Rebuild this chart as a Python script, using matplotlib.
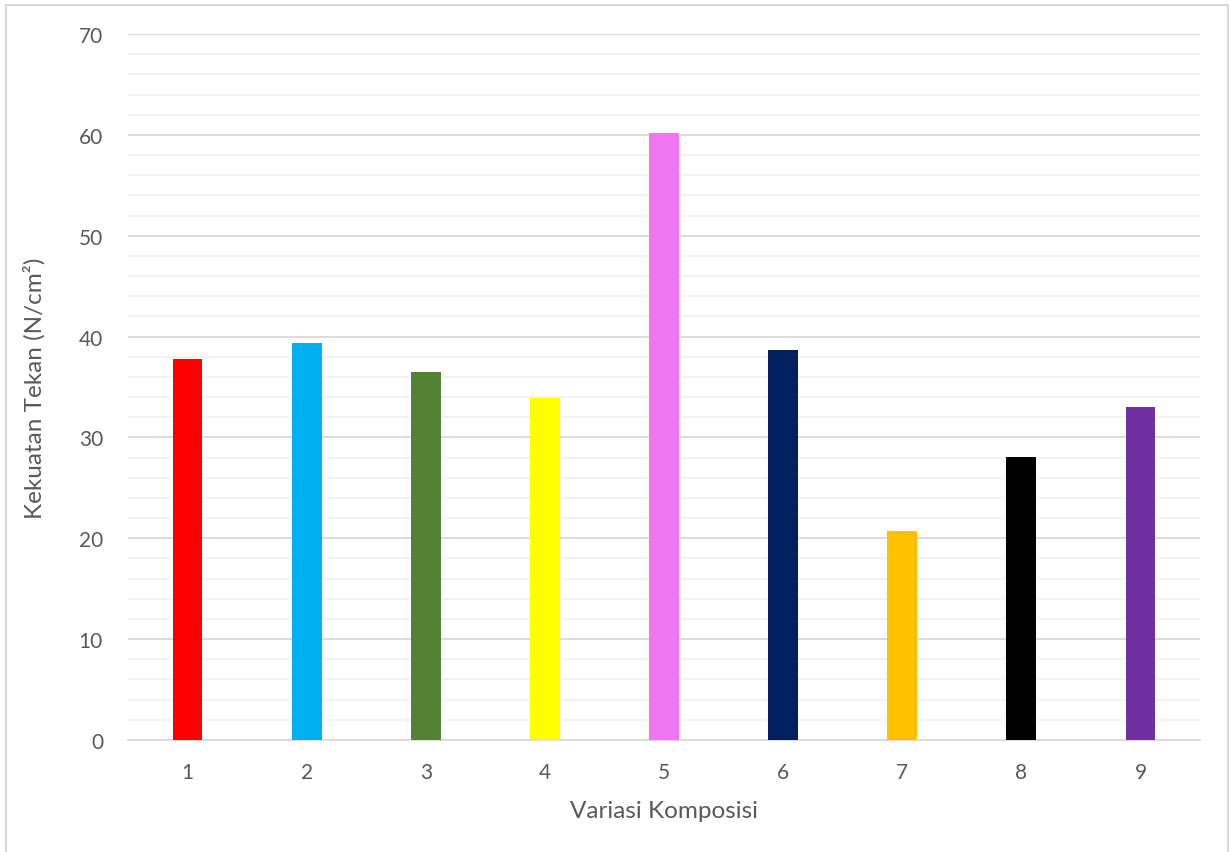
import matplotlib.pyplot as plt
from matplotlib.patches import Rectangle
from matplotlib.ticker import MultipleLocator

plt.rcParams['font.family'] = ['Lato', 'DejaVu Sans']

komposisi = ['1', '2', '3', '4', '5', '6', '7', '8', '9']
kuat_tekan = [37.8, 39.4, 36.5, 33.9, 60.2, 38.7, 20.7, 28.1, 33.0]
warna = ['#ff0000', '#00b0f0', '#548235', '#ffff00', '#f075f0',
         '#002060', '#ffc000', '#000000', '#7030a0']

fig = plt.figure(figsize=(12.29, 8.53), dpi=100)
# chart frame
fig.patches.append(Rectangle((6 / 1229, -0.01), (1228 - 6) / 1229, (853 - 6) / 853 + 0.01,
                             transform=fig.transFigure, fill=False,
                             edgecolor='#d9d9d9', linewidth=1.5))

ax = fig.add_axes([128 / 1229, 112 / 853, 1072 / 1229, 706 / 853])
x = range(len(komposisi))
ax.bar(x, kuat_tekan, width=0.25, color=warna, zorder=3)

ax.set_xlim(-0.5, len(komposisi) - 0.5)
ax.set_ylim(0, 70)
ax.set_xticks(list(x))
ax.set_xticklabels(komposisi)
ax.yaxis.set_major_locator(MultipleLocator(10))
ax.yaxis.set_minor_locator(MultipleLocator(2))
ax.grid(axis='y', which='major', color='#d9d9d9', linewidth=1.3, zorder=0)
ax.grid(axis='y', which='minor', color='#f2f2f2', linewidth=1.3, zorder=0)

for s in ['top', 'right', 'left']:
    ax.spines[s].set_visible(False)
ax.spines['bottom'].set_color('#d9d9d9')
ax.spines['bottom'].set_linewidth(1.3)
ax.tick_params(axis='both', which='both', length=0, labelsize=15, colors='#595959')
ax.tick_params(axis='y', pad=18)
ax.tick_params(axis='x', pad=16)

ax.set_xlabel('Variasi Komposisi', fontsize=17.5, color='#595959', labelpad=13)
ax.set_ylabel('Kekuatan Tekan (N/cm²)', fontsize=17.5, color='#595959', labelpad=24)

fig.savefig('out.png', dpi=100)
